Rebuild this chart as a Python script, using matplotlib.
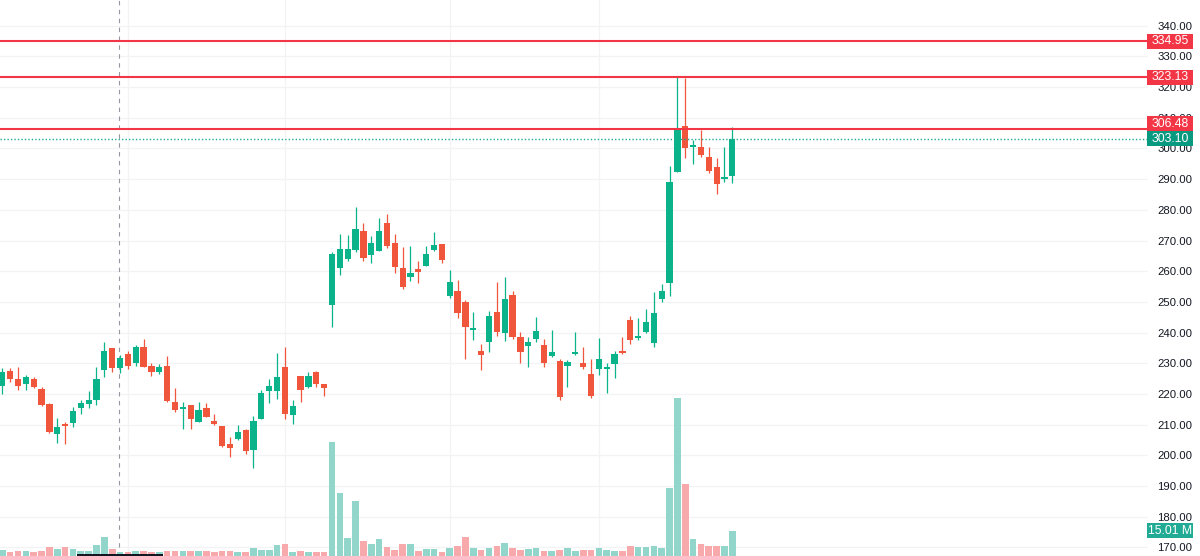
import matplotlib
matplotlib.use("Agg")
import matplotlib.pyplot as plt
from matplotlib.patches import Rectangle
import numpy as np

# daily OHLC (94 sessions)
opens = [
    222.7, 227.5, 225.0, 223.4, 225.0, 221.6, 216.6, 207.1, 210.1, 210.5,
    215.3, 216.7, 217.9, 227.9, 234.9, 228.4, 233.0, 230.1, 235.2, 229.2,
    227.1, 229.2, 217.5, 215.1, 216.3, 211.0, 215.3, 211.2, 209.7, 203.6,
    205.3, 208.4, 201.8, 212.0, 221.1, 221.1, 228.9, 213.1, 226.0, 222.2,
    227.3, 223.3, 249.0, 261.0, 263.9, 266.9, 273.2, 265.4, 266.7, 275.8,
    269.3, 260.9, 258.1, 260.7, 261.7, 266.9, 268.8, 251.8, 253.6, 250.1,
    240.9, 234.1, 237.0, 246.7, 240.0, 252.1, 238.7, 235.6, 237.9, 236.1,
    232.5, 230.7, 229.0, 233.1, 230.1, 226.6, 228.0, 228.0, 229.9, 234.0,
    244.1, 238.2, 240.2, 236.6, 251.0, 256.1, 292.4, 307.3, 300.6, 300.4,
    297.2, 294.0, 290.0, 291.0]
closes = [
    227.3, 224.8, 222.7, 225.4, 222.2, 216.4, 207.5, 209.3, 209.7, 214.4,
    217.0, 218.0, 224.8, 234.1, 228.4, 231.8, 229.2, 235.2, 228.9, 227.3,
    228.7, 217.8, 214.8, 215.8, 211.9, 214.7, 212.6, 210.1, 203.1, 202.5,
    207.5, 201.4, 211.2, 220.3, 222.6, 225.5, 213.5, 216.1, 221.4, 226.0,
    223.3, 221.9, 265.6, 267.2, 267.2, 273.7, 264.4, 269.2, 273.2, 268.2,
    261.3, 255.0, 259.5, 259.8, 265.5, 268.4, 263.6, 256.4, 246.3, 241.9,
    241.6, 232.7, 245.5, 240.1, 250.9, 238.5, 233.6, 236.9, 240.4, 230.2,
    233.7, 219.0, 230.3, 233.7, 228.8, 219.4, 231.4, 228.7, 232.9, 233.5,
    237.6, 238.9, 243.5, 246.5, 253.6, 289.2, 306.0, 300.2, 301.0, 297.8,
    292.7, 288.5, 290.7, 303.1]
highs = [
    228.4, 228.6, 228.8, 226.2, 225.5, 222.2, 217.1, 212.1, 210.9, 215.8,
    217.9, 221.0, 228.9, 237.0, 235.0, 232.7, 234.1, 236.0, 237.8, 230.0,
    229.8, 232.4, 221.9, 217.5, 216.3, 217.5, 217.2, 213.5, 209.7, 206.0,
    209.9, 208.6, 212.7, 221.3, 225.0, 233.3, 235.3, 217.9, 226.0, 227.2,
    227.6, 223.3, 266.4, 272.2, 271.9, 280.8, 275.6, 271.5, 277.2, 278.6,
    272.1, 267.8, 268.2, 263.2, 268.2, 272.8, 269.0, 260.4, 257.0, 250.6,
    246.7, 236.2, 246.9, 256.4, 258.2, 253.6, 240.3, 238.7, 245.0, 237.9,
    240.7, 231.5, 231.2, 240.1, 235.3, 231.4, 238.1, 230.0, 234.1, 238.6,
    245.5, 244.7, 247.8, 253.1, 255.8, 294.3, 323.13, 322.8, 302.7, 306.0,
    300.4, 296.8, 300.4, 307.1]
lows = [
    219.9, 224.0, 221.2, 221.2, 221.9, 216.0, 207.2, 203.9, 203.6, 209.3,
    213.6, 215.3, 216.4, 225.6, 227.3, 226.7, 228.1, 229.2, 228.7, 225.9,
    226.4, 217.4, 214.0, 208.5, 208.5, 210.8, 212.4, 209.9, 202.8, 199.6,
    205.0, 200.5, 195.8, 211.8, 217.1, 218.3, 212.0, 210.2, 217.5, 221.9,
    222.2, 219.3, 241.9, 258.7, 263.3, 266.2, 263.3, 262.8, 266.6, 267.7,
    259.3, 254.2, 256.8, 256.3, 261.7, 266.7, 262.8, 251.4, 244.7, 231.3,
    237.6, 227.8, 233.6, 239.0, 237.3, 237.9, 230.2, 228.7, 236.8, 228.7,
    232.0, 218.0, 222.4, 232.6, 228.2, 218.8, 226.2, 220.4, 225.3, 232.9,
    236.4, 237.6, 239.8, 235.3, 249.9, 251.9, 292.4, 296.8, 294.8, 297.3,
    291.9, 285.1, 289.2, 288.8]
# volume in millions
volumes = [
    3.6, 2.2, 2.8, 3.1, 2.2, 2.8, 5.3, 4.3, 5.3, 4.3,
    3.1, 3.1, 6.3, 11.4, 4.3, 2.5, 2.2, 3.1, 2.8, 2.2,
    2.2, 3.1, 2.8, 3.1, 2.8, 2.8, 2.8, 2.2, 2.8, 2.8,
    2.2, 2.2, 4.7, 3.6, 3.6, 6.3, 6.9, 2.5, 2.8, 2.5,
    2.2, 2.2, 67.6, 37.4, 10.5, 32.4, 8.9, 6.9, 10.1, 5.3,
    3.6, 6.9, 6.9, 3.1, 4.2, 4.2, 2.5, 4.7, 5.9, 11.1,
    4.7, 3.6, 4.7, 5.9, 7.9, 4.7, 3.6, 4.2, 4.7, 3.1,
    3.1, 3.6, 4.7, 3.1, 3.6, 3.6, 4.7, 3.6, 3.1, 3.1,
    5.9, 5.3, 5.3, 5.9, 4.7, 40.1, 93.5, 42.5, 9.9, 6.9,
    5.9, 5.9, 5.9, 15.01]

levels = [334.95, 323.13, 306.48]   # drawn horizontal lines
last_price = 303.10
price_ticks = list(range(170, 341, 10))
month_marks = [16, 36, 57, 76]   # vertical grid (bar index)
crosshair_x = 14.9

UP, DOWN = "#0ab389", "#f0563b"
UP_VOL, DOWN_VOL = "#92d5ca", "#f8a9ab"
GRID = "#f2f3f5"
W, H = 1200, 556
PLOT_W = 1148

fig = plt.figure(figsize=(W / 100, H / 100), dpi=100)
ax = fig.add_axes([0, 0, PLOT_W / W, 1])
vax = ax.twinx()

x = np.arange(len(opens))
o, c = np.array(opens), np.array(closes)
up = c >= o

ax.set_xlim(-2.3 / 7.85, (PLOT_W - 2.3) / 7.85)
ax.set_ylim(167.23, 348.34)
vax.set_ylim(0, 15.01 / 25.3 * H)

# grid
for t in price_ticks:
    ax.axhline(t, color=GRID, lw=0.9, zorder=0)
for m in month_marks:
    ax.axvline(m, color=GRID, lw=0.9, zorder=0)
ax.axvline(crosshair_x, color="#9598a1", lw=0.8, ls=(0, (4, 4)), zorder=1)

# candles
cols = np.where(up, UP, DOWN)
ax.vlines(x, lows, highs, colors=cols, lw=0.9, zorder=3)
body_lo = np.minimum(o, c)
body_h = np.maximum(np.abs(c - o), 0.45)
ax.bar(x, body_h, bottom=body_lo, width=0.8, color=cols, lw=0, zorder=4)

# volume
vax.bar(x, volumes, width=0.85, color=np.where(up, UP_VOL, DOWN_VOL), lw=0, zorder=2)

# level lines
for lv in levels:
    ax.axhline(lv, color="#f23645", lw=1.5, zorder=5)
ax.axhline(last_price, color="#22ab94", lw=1.0, ls=(0, (1, 1.5)), zorder=5)

# right price scale
ax.set_yticks(price_ticks)
ax.set_yticklabels([f"{t:.2f}" for t in price_ticks])
ax.yaxis.tick_right()
ax.tick_params(axis="y", length=0, pad=6.5, labelsize=8.2, labelcolor="#131722")
for lab in ax.get_yticklabels():
    lab.set_fontfamily("Liberation Sans")
ax.set_xticks([])
vax.set_yticks([])
for a in (ax, vax):
    for s in a.spines.values():
        s.set_visible(False)


def tag(a, value, text, color, shift=0):
    # shift in pixels, positive moves the tag up (labels avoid overlapping)
    y = fig.transFigure.inverted().transform(a.transData.transform((0, value)))[1]
    y += shift / H
    h = 15 / H
    fig.patches.append(Rectangle((1147 / W, y - h / 2), 46 / W, h, transform=fig.transFigure,
                                 facecolor=color, edgecolor="none", zorder=10))
    fig.text(1170 / W, y, text, color="white", ha="center", va="center", fontsize=8.8,
             family="Liberation Sans", zorder=11)


tag(ax, levels[0], f"{levels[0]:.2f}", "#f23645")
tag(ax, levels[1], f"{levels[1]:.2f}", "#f23645")
tag(ax, levels[2], f"{levels[2]:.2f}", "#f23645", shift=5)
tag(ax, last_price, f"{last_price:.2f}", "#089981")
tag(vax, volumes[-1], f"{volumes[-1]:.2f} M", "#22ab94")

# crosshair date box edge at the bottom
fig.patches.append(Rectangle((77 / W, 0), 86 / W, 2 / H, transform=fig.transFigure,
                             facecolor="#131722", edgecolor="none", zorder=10))

fig.savefig("out.png", dpi=100)
